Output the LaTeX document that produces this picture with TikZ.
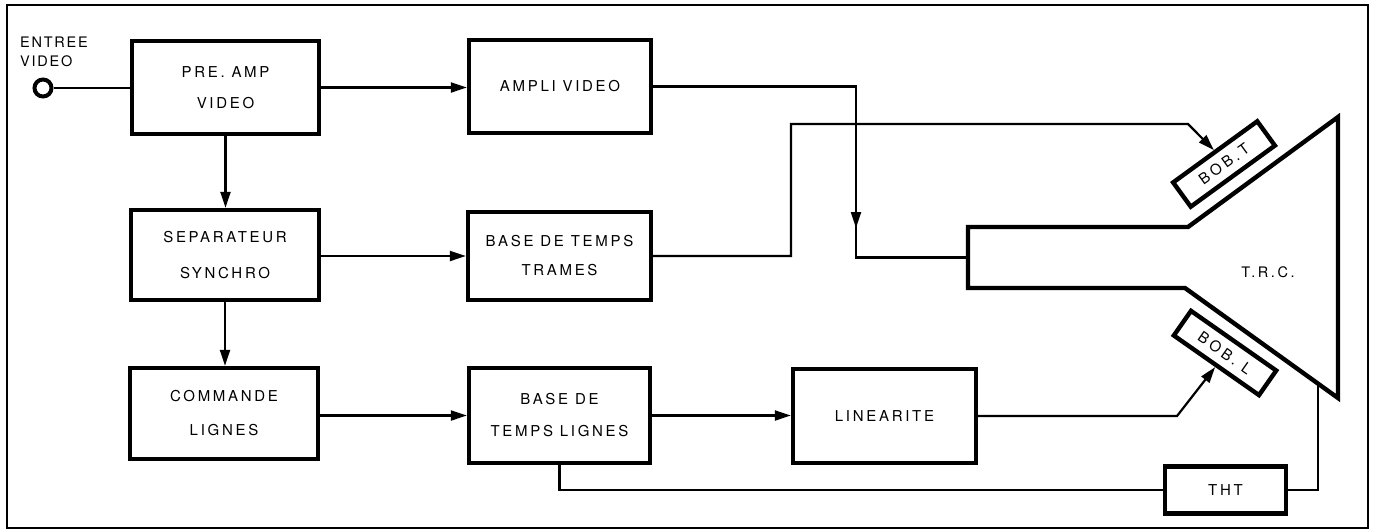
\documentclass[tikz,border=0pt]{standalone}
\usepackage{fontspec}
\setmainfont{TeX Gyre Heros}
\newfontfamily\labfont[LetterSpace=18]{TeX Gyre Heros}
\newfontfamily\widefont[LetterSpace=22]{TeX Gyre Heros}
\newfontfamily\inpfont[LetterSpace=12]{TeX Gyre Heros}
\usetikzlibrary{arrows.meta,calc}
\begin{document}
\begin{tikzpicture}[x=1pt,y=-1pt,
  box/.style={draw, line width=4.4pt, inner sep=0pt, align=center,
    font=\labfont\fontsize{15}{31}\selectfont},
  bob/.style={draw, line width=4.4pt, inner sep=0pt, align=center,
    minimum width=104pt, minimum height=30pt,
    font=\widefont\fontsize{15}{16}\selectfont},
  conn/.style={line width=2.2pt},
  arr/.style={conn, -{Triangle[length=16pt,width=10pt]}},
  tube/.style={draw, line width=4.4pt, line join=miter},
]
\useasboundingbox (0,0) rectangle (1375,531);
\draw[line width=2.4pt] (7,5) rectangle (1368,528);

% blocks
\node[box, minimum width=187pt, minimum height=93pt] (pre) at (225.5,87.5) {PRE.\ AMP\\VIDEO};
\node[box, minimum width=182pt, minimum height=93pt] (ampli) at (560,86.5) {AMPLI VIDEO};
\node[box, minimum width=188pt, minimum height=90pt, font=\labfont\fontsize{15}{36}\selectfont] (sep) at (225,255) {SEPARATEUR\\SYNCHRO};
\node[box, minimum width=183pt, minimum height=88pt, font=\labfont\fontsize{15}{29}\selectfont] (trames) at (559.5,256) {BASE DE TEMPS\\TRAMES};
\node[box, minimum width=188pt, minimum height=91pt, font=\labfont\fontsize{15}{34}\selectfont] (cmd) at (224,413.5) {COMMANDE\\LIGNES};
\node[box, minimum width=181pt, minimum height=95pt, font=\labfont\fontsize{15}{32}\selectfont] (lignes) at (559.5,415.5) {BASE DE\\TEMPS LIGNES};
\node[box, minimum width=183pt, minimum height=94pt] (lin) at (884.5,416) {LINEARITE};
\node[box, minimum width=121pt, minimum height=47pt] (tht) at (1225.5,490) {THT};

% input
\node[circle, draw, line width=4pt, minimum size=17pt, inner sep=0pt] (in) at (43,88) {};
\node[anchor=north west, inner sep=0pt, align=left, font=\inpfont\fontsize{14.5}{19}\selectfont] (inlab) at (20,37) {ENTREE\\VIDEO};

% tube (T.R.C.)
\coordinate (n1) at (968,227);
\coordinate (n2) at (1188,227);
\coordinate (t1) at (1338,117);
\coordinate (t2) at (1338,398);
\coordinate (n3) at (1185,288);
\coordinate (n4) at (968,288);
\draw[tube] (n1) -- (n2) -- (t1) -- (t2) -- (n3) -- (n4) -- cycle;
\node[font=\labfont\fontsize{14.5}{16}\selectfont] (trc) at (1268,272) {T.R.C.};
\coordinate (neckin) at ($(n1)!.5!(n4)$);

% coils
\node[bob, rotate=36] (bobt) at (1224,164) {BOB.T};
\node[bob, rotate=-35] (bobl) at (1225,353) {BOB.\ L};

% connectors
\draw[conn] (in.east) -- (in.east -| pre.west);
\draw[arr] (pre.east) -- (pre.east -| ampli.west);
\draw[arr] (pre.south) -- (pre.south |- sep.north);
\draw[arr] (sep.east |- trames.west) -- (trames.west);
\draw[arr] (sep.south) -- (sep.south |- cmd.north);
\draw[arr] (cmd.east |- lignes.west) -- (lignes.west);
\draw[arr] (lignes.east) -- (lignes.east -| lin.west);

% video to tube neck
\coordinate (va) at (856,86.5);
\coordinate (vb) at (856,228);
\coordinate (vc) at (va |- neckin);
\draw[conn] (ampli.east) -- (va) -- (vc) -- (neckin);
\draw[arr] (va) -- (vb);

% frame timebase to BOB.T
\coordinate (tA) at (791,124);
\coordinate (tB) at (1188,124);
\draw[arr] (trames.east) -| (tA) -- (tB) -- (bobt.north);

% linearity to BOB.L
\coordinate (lB) at (1177,416);
\draw[arr] (lin.east) -- (lB) -- (bobl.south);

% line timebase to THT to tube
\draw[conn] (lignes.south) |- (tht.west);
\coordinate (hv) at ($(n3)!{(1318-1185)/(1338-1185)}!(t2)$);
\draw[conn] (tht.east) -| (hv);
\end{tikzpicture}
\end{document}
